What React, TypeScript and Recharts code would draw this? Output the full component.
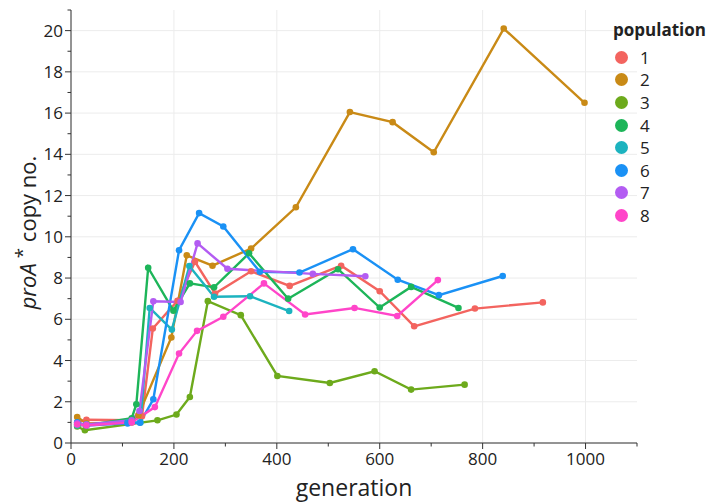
import { LineChart, Line, XAxis, YAxis, ReferenceLine, Legend, Label } from "recharts";

// generation, proA* copy number
const pop1 = [[12, 1.0], [30, 1.13], [118, 1.1], [138, 1.3], [159, 5.55], [207, 6.9], [241, 8.79], [280, 7.25], [350, 8.33], [425, 7.62], [525, 8.6], [600, 7.36], [667, 5.66], [785, 6.52], [917, 6.82]];
const pop2 = [[12, 1.26], [30, 0.95], [118, 1.0], [131, 1.35], [195, 5.12], [225, 9.1], [275, 8.6], [350, 9.43], [437, 11.43], [542, 16.05], [625, 15.56], [705, 14.1], [841, 20.1], [998, 16.5]];
const pop3 = [[12, 0.8], [27, 0.62], [168, 1.1], [205, 1.38], [231, 2.23], [266, 6.88], [330, 6.2], [401, 3.25], [503, 2.91], [590, 3.48], [661, 2.59], [765, 2.83]];
const pop4 = [[12, 0.9], [30, 0.85], [118, 1.2], [127, 1.88], [150, 8.5], [199, 6.42], [231, 7.74], [278, 7.55], [346, 9.2], [422, 7.0], [519, 8.43], [600, 6.57], [661, 7.57], [753, 6.55]];
const pop5 = [[12, 0.85], [30, 0.9], [110, 1.0], [135, 1.0], [153, 6.55], [196, 5.5], [230, 8.58], [278, 7.09], [348, 7.12], [424, 6.4]];
const pop6 = [[12, 1.0], [30, 0.85], [110, 0.95], [134, 0.98], [160, 2.12], [210, 9.35], [249, 11.15], [296, 10.5], [367, 8.3], [444, 8.27], [548, 9.4], [635, 7.92], [715, 7.17], [839, 8.1]];
const pop7 = [[12, 0.95], [30, 0.9], [118, 1.1], [133, 1.55], [160, 6.87], [213, 6.84], [246, 9.68], [304, 8.45], [470, 8.2], [572, 8.09]];
const pop8 = [[12, 0.9], [30, 0.85], [118, 1.0], [163, 1.74], [210, 4.34], [245, 5.44], [296, 6.12], [375, 7.74], [455, 6.23], [551, 6.55], [634, 6.16], [713, 7.9]];

const populations = ["1", "2", "3", "4", "5", "6", "7", "8"];
const colors = ["#F3645F", "#C98A16", "#6DAA1C", "#1DB559", "#1CB3BF", "#1A91F5", "#B35CF2", "#FF45C9"];
const allPoints = [pop1, pop2, pop3, pop4, pop5, pop6, pop7, pop8];

const xTicks = [0, 100, 200, 300, 400, 500, 600, 700, 800, 900, 1000, 1100];
const yTicks = [0, 1, 2, 3, 4, 5, 6, 7, 8, 9, 10, 11, 12, 13, 14, 15, 16, 17, 18, 19, 20, 21];
const xGrid = [0, 200, 400, 600, 800, 1000];
const yGrid = [0, 2, 4, 6, 8, 10, 12, 14, 16, 18, 20];

const series = populations.map((name, i) => ({
  name,
  color: colors[i],
  data: allPoints[i].map(([g, c]) => ({ generation: g, copies: c })),
}));

const FONT = "'Open Sans', 'DejaVu Sans', sans-serif";
const AXIS = "#333";

function XTick(props: any) {
  const { x, y, payload } = props;
  const v = payload.value;
  const major = v % 200 === 0;
  return (
    <g>
      <line x1={x} x2={x} y1={y} y2={y + (major ? 6 : 3.5)} stroke={AXIS} />
      {major && v <= 1000 && (
        <text x={x} y={y + 22} textAnchor="middle" fontSize={17} fill="#222" fontFamily={FONT}>
          {v}
        </text>
      )}
    </g>
  );
}

function YTick(props: any) {
  const { x, y, payload } = props;
  const v = payload.value;
  const major = v % 2 === 0;
  return (
    <g>
      <line x1={x - (major ? 6 : 3.5)} x2={x} y1={y} y2={y} stroke={AXIS} />
      {major && (
        <text x={x - 8} y={y + 6} textAnchor="end" fontSize={17} fill="#222" fontFamily={FONT}>
          {v}
        </text>
      )}
    </g>
  );
}

function YTitle(props: any) {
  const vb = props.viewBox || {};
  const cx = 27;
  const cy = (vb.y ?? 10) + (vb.height ?? 433) / 2 + 6;
  return (
    <text
      x={cx}
      y={cy}
      transform={`rotate(-90, ${cx}, ${cy})`}
      textAnchor="middle"
      dominantBaseline="central"
      fontSize={22}
      fill="#222"
      fontFamily={FONT}
    >
      <tspan fontStyle="italic">proA</tspan>
      <tspan dy={-5} fontSize={19}> *</tspan>
      <tspan dy={5}> copy no.</tspan>
    </text>
  );
}

function PopLegend() {
  return (
    <div style={{ fontFamily: FONT, color: "#222" }}>
      <div style={{ fontWeight: 700, fontSize: 17, lineHeight: "22px", marginBottom: 5 }}>population</div>
      {series.map((s) => (
        <div key={s.name} style={{ display: "flex", alignItems: "center", height: 22.6 }}>
          <span
            style={{
              width: 13,
              height: 13,
              borderRadius: "50%",
              background: s.color,
              display: "inline-block",
              marginLeft: 2,
              marginRight: 12,
            }}
          />
          <span style={{ fontSize: 17 }}>{s.name}</span>
        </div>
      ))}
    </div>
  );
}

export default function App() {
  return (
    <div style={{ position: "absolute", left: 0, top: 0, width: 721, height: 504, background: "#fff" }}>
      <LineChart width={721} height={504} margin={{ top: 10, right: 84, left: 0, bottom: 0 }}>
        {yGrid.map((v) => (
          <ReferenceLine key={"h" + v} y={v} stroke="#ececec" strokeWidth={1} />
        ))}
        {xGrid.map((v) => (
          <ReferenceLine key={"v" + v} x={v} stroke="#ececec" strokeWidth={1} />
        ))}
        <XAxis
          dataKey="generation"
          type="number"
          domain={[0, 1100]}
          ticks={xTicks}
          interval={0}
          height={61}
          tickSize={0}
          tickMargin={0}
          tickLine={false}
          axisLine={{ stroke: AXIS }}
          tick={<XTick />}
          allowDataOverflow
        >
          <Label value="generation" position="insideBottom" offset={8} fontSize={23} fill="#222" fontFamily={FONT} />
        </XAxis>
        <YAxis
          type="number"
          domain={[0, 21]}
          ticks={yTicks}
          interval={0}
          width={71}
          tickSize={0}
          tickMargin={0}
          tickLine={false}
          axisLine={{ stroke: AXIS }}
          tick={<YTick />}
          allowDataOverflow
        >
          <Label content={<YTitle />} />
        </YAxis>
        <Legend
          content={<PopLegend />}
          layout="vertical"
          align="center"
          verticalAlign="middle"
          wrapperStyle={{ position: "absolute", left: 613, top: 19, width: 108 }}
        />
        {series.map((s) => (
          <Line
            key={s.name}
            data={s.data}
            dataKey="copies"
            name={s.name}
            stroke={s.color}
            strokeWidth={2.4}
            dot={{ r: 3.3, fill: s.color, stroke: s.color, strokeWidth: 0 }}
            activeDot={false}
            isAnimationActive={false}
          />
        ))}
      </LineChart>
    </div>
  );
}
